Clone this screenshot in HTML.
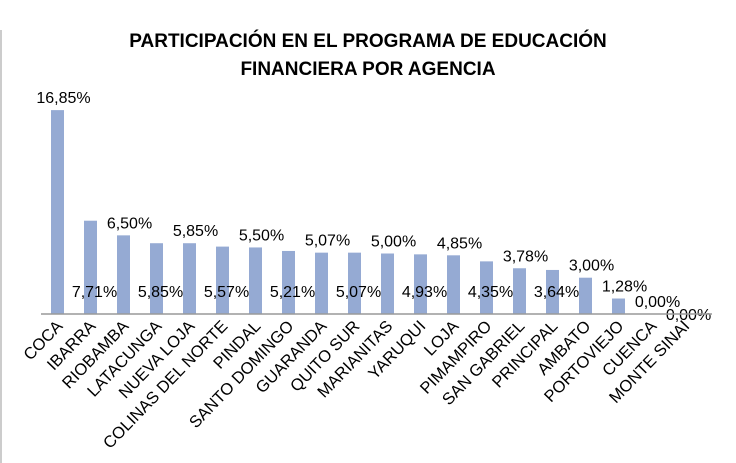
<!DOCTYPE html>
<html><head><meta charset="utf-8"><style>
body{margin:0;background:#fff;}
svg{display:block;font-family:"Liberation Sans",sans-serif;}
</style></head><body>
<svg id="chart" width="736" height="463" viewBox="0 0 736 463">
<rect x="0" y="0" width="736" height="463" fill="#fff"/>
<line x1="1" y1="30" x2="1" y2="463" stroke="#bbb" stroke-width="1.5"/>
<text x="368" y="47" text-anchor="middle" font-size="19" font-weight="bold" fill="#000">PARTICIPACIÓN EN EL PROGRAMA DE EDUCACIÓN</text>
<text x="368" y="75" text-anchor="middle" font-size="19" font-weight="bold" fill="#000">FINANCIERA POR AGENCIA</text>
<g id="bars"></g>
<line x1="41" y1="314" x2="712" y2="314" stroke="#999" stroke-width="1.5"/>
</svg>
<script>
const categories=["COCA","IBARRA","RIOBAMBA","LATACUNGA","NUEVA LOJA","COLINAS DEL NORTE","PINDAL","SANTO DOMINGO","GUARANDA","QUITO SUR","MARIANITAS","YARUQUI","LOJA","PIMAMPIRO","SAN GABRIEL","PRINCIPAL","AMBATO","PORTOVIEJO","CUENCA","MONTE SINAI"];
const values=[16.85,7.71,6.50,5.85,5.85,5.57,5.50,5.21,5.07,5.07,5.00,4.93,4.85,4.35,3.78,3.64,3.00,1.28,0.00,0.00];
const valueLabels=["16,85%","7,71%","6,50%","5,85%","5,85%","5,57%","5,50%","5,21%","5,07%","5,07%","5,00%","4,93%","4,85%","4,35%","3,78%","3,64%","3,00%","1,28%","0,00%","0,00%"];
const NS="http://www.w3.org/2000/svg";
const g=document.getElementById('bars');
const base=314, scale=12.1;
function xc(i){return 57.5+i*33;}
function yv(v){return base-v*scale;}
values.forEach((v,i)=>{
  const r=document.createElementNS(NS,'rect');
  r.setAttribute('x',xc(i)-6.5);r.setAttribute('y',yv(v));
  r.setAttribute('width',13);r.setAttribute('height',base-yv(v));
  r.setAttribute('fill','#95aad3');
  
  
  g.appendChild(r);
  const t=document.createElementNS(NS,'text');
  const below=(i%2===1 && i<17) || i===19;
  t.setAttribute('x',xc(i)+(below?4:6));
  t.setAttribute('y',below?(i===19?320:297):yv(v)-7);
  t.setAttribute('text-anchor','middle');t.setAttribute('font-size','16');
  t.textContent=valueLabels[i];
  
  
  g.appendChild(t);
  const c=document.createElementNS(NS,'text');
  const cx=xc(i)+6, cy=327;
  c.setAttribute('x',cx);c.setAttribute('y',cy);
  c.setAttribute('text-anchor','end');c.setAttribute('font-size','16.5');
  c.setAttribute('transform','rotate(-46 '+cx+' '+cy+')');
  c.textContent=categories[i];
  
  
  g.appendChild(c);
});
</script>
</body></html>
